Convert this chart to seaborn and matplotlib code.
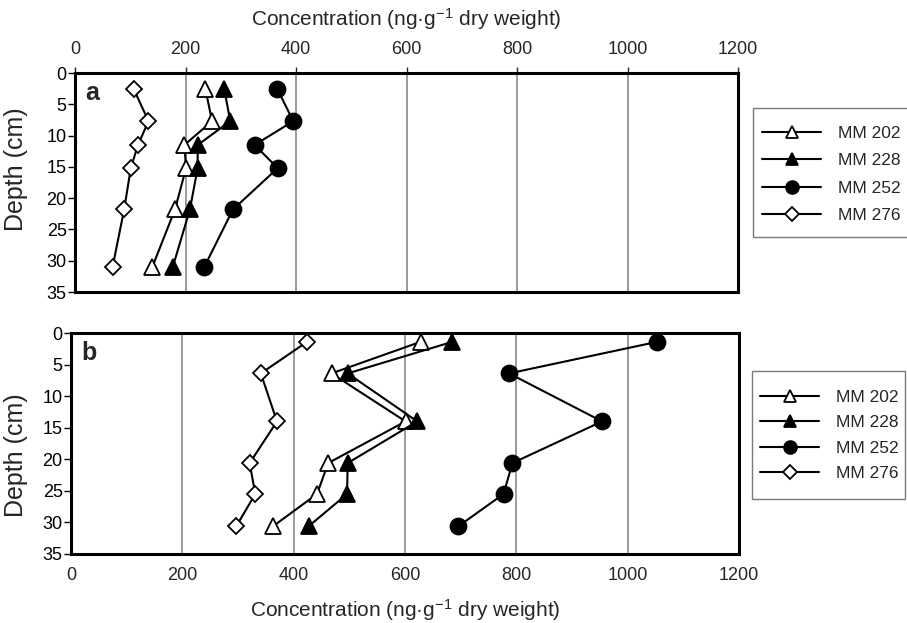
import matplotlib
matplotlib.use("Agg")
import matplotlib.pyplot as plt
from matplotlib.patches import Rectangle
import seaborn as sns
import pandas as pd

# ---------------- data ----------------
series = ["MM 202", "MM 228", "MM 252", "MM 276"]

depth_a = [2.5, 7.7, 11.5, 15.2, 21.8, 31.0]
a_mm202 = [236, 248, 198, 201, 181, 140]
a_mm228 = [270, 281, 222, 222, 208, 177]
a_mm252 = [366, 395, 325, 367, 286, 234]
a_mm276 = [106, 133, 114, 101, 89, 68]

depth_b = [1.4, 6.4, 14.0, 20.6, 25.5, 30.6]
b_mm202 = [628, 468, 601, 462, 442, 363]
b_mm228 = [685, 497, 622, 497, 496, 427]
b_mm252 = [1053, 787, 954, 793, 777, 696]
b_mm276 = [424, 341, 370, 321, 331, 297]

x_ticks = [0, 200, 400, 600, 800, 1000, 1200]
y_ticks = [0, 5, 10, 15, 20, 25, 30, 35]
x_label = r"Concentration (ng·g$^{\mathregular{-1}}$ dry weight)"
y_label = "Depth (cm)"
panel_labels = ["a", "b"]

# ---------------- style ----------------
sns.set_style("white")
plt.rcParams["font.family"] = ["Liberation Sans", "DejaVu Sans"]
plt.rcParams["mathtext.fontset"] = "custom"
plt.rcParams["mathtext.rm"] = "Liberation Sans"
plt.rcParams["mathtext.it"] = "Liberation Sans"
plt.rcParams["mathtext.bf"] = "Liberation Sans"

marker_styles = {
    "MM 202": dict(marker="^", markerfacecolor="white", markersize=11.5),
    "MM 228": dict(marker="^", markerfacecolor="black", markersize=11.5),
    "MM 252": dict(marker="o", markerfacecolor="black", markersize=11.5),
    "MM 276": dict(marker="D", markerfacecolor="white", markersize=8.5),
}

W, H = 907, 623
fig = plt.figure(figsize=(W / 100, H / 100), dpi=100)
ax_a = fig.add_axes([75 / W, 1 - 292 / H, 663 / W, 219 / H])
ax_b = fig.add_axes([71 / W, 1 - 554 / H, 668 / W, 221 / H])

# ylabel right edge x (px) and centre y (px)
panels = [
    (ax_a, depth_a, [a_mm202, a_mm228, a_mm252, a_mm276], (28, 168.7), 292, 219, 75, 663),
    (ax_b, depth_b, [b_mm202, b_mm228, b_mm252, b_mm276], (28, 455.0), 554, 221, 71, 668),
]

for i, (ax, depth, vals, ylab_px, ybot, yh, xl, xw) in enumerate(panels):
    for name, v in zip(series, vals):
        df = pd.DataFrame({"conc": v, "depth": depth})
        sns.lineplot(data=df, x="conc", y="depth", sort=False, estimator=None,
                     ax=ax, color="black", linewidth=1.5,
                     markeredgecolor="black", markeredgewidth=1.3,
                     label=name, **marker_styles[name])
    ax.set_xlim(0, 1200)
    ax.set_ylim(35, 0)
    ax.set_xticks(x_ticks)
    ax.set_yticks(y_ticks)
    ax.set_xticklabels([str(t) for t in x_ticks], fontsize=13)
    ax.set_yticklabels([str(t) for t in y_ticks], fontsize=13)
    ax.grid(axis="x", color="#808080", linewidth=1.1)
    ax.grid(axis="y", visible=False)
    for s in ax.spines.values():
        s.set_visible(True)
        s.set_color("black")
        s.set_linewidth(2.2)
    ax.tick_params(axis="y", left=True, length=5, width=1.0, pad=1, colors="black")
    ax.set_ylabel(y_label, fontsize=18)
    ax.yaxis.set_label_coords((ylab_px[0] - xl) / xw, (ybot - ylab_px[1]) / yh)
    ax.text(0.016, 0.965, panel_labels[i], transform=ax.transAxes, fontsize=18,
            fontweight="bold", va="top", ha="left")
    leg = ax.get_legend()
    if leg is not None:
        leg.remove()

# top panel: x axis on top
ax_a.xaxis.set_ticks_position("top")
ax_a.xaxis.set_label_position("top")
ax_a.tick_params(axis="x", top=True, bottom=False, length=4.5, width=1.0, pad=6)
ax_a.set_xlabel(x_label, fontsize=15, labelpad=11)

ax_b.tick_params(axis="x", bottom=True, length=0, pad=9)
ax_b.set_xlabel(x_label, fontsize=15, labelpad=10)

# legends: frame drawn as rectangle, entries placed inside
legend_specs = [
    # ax, box (x0, y0, x1, y1) in px, entries anchor (x, y) px, labelspacing
    (ax_a, (753, 108, 910, 237), (762, 126), 0.70),
    (ax_b, (752, 371, 905, 499), (760, 390), 0.58),
]
for ax, box, anc, lsp in legend_specs:
    x0, y0, x1, y1 = box
    fig.patches.append(Rectangle((x0 / W, 1 - y1 / H), (x1 - x0) / W, (y1 - y0) / H,
                                 transform=fig.transFigure, fill=False,
                                 edgecolor="#7a7a7a", linewidth=1.0))
    h, l = ax.get_legend_handles_labels()
    fig.legend(h, l, loc="upper left", bbox_to_anchor=(anc[0] / W, 1 - anc[1] / H),
               bbox_transform=fig.transFigure, fontsize=12.5,
               frameon=False, handlelength=3.4, handletextpad=1.0,
               labelspacing=lsp, borderpad=0, markerscale=0.8,
               borderaxespad=0)

fig.savefig("out.png", dpi=100)
